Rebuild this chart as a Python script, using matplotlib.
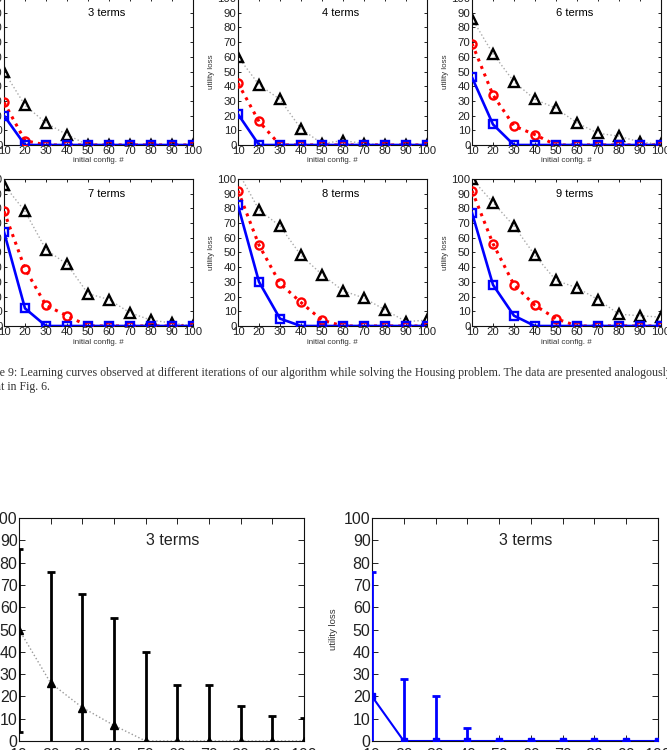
import matplotlib
matplotlib.use("Agg")
import matplotlib.pyplot as plt
import numpy as np

# ---------------- data ----------------
x = [10, 20, 30, 40, 50, 60, 70, 80, 90, 100]
titles = ["3 terms", "4 terms", "6 terms", "7 terms", "8 terms", "9 terms"]

black_vals = [
    [50, 27, 15, 7, 0, 0, 0, 0, 0, 0],
    [60, 41, 31, 11, 1, 3, 1, 0, 0, 0],
    [86, 62, 43, 31, 25, 15, 8, 6, 2, 0.5],
    [96, 78, 52, 42, 22, 18, 9, 4, 2, 0],
    [105, 79, 68, 48, 35, 24, 19, 11, 3, 4],
    [100, 84, 68, 48, 31, 26, 18, 8, 7, 6],
]
red_vals = [
    [29, 3, 0, 0, 0, 0, 0, 0, 0, 0],
    [42, 16, 0, 0, 0, 0, 0, 0, 0, 0],
    [69, 34, 13, 7, 0, 0, 0, 0, 0, 0],
    [78, 39, 14, 7, 0, 0, 0, 0, 0, 0],
    [92, 55, 29, 16, 4, 0, 0, 0, 0, 0],
    [92, 56, 28, 14, 5, 0, 0, 0, 0, 0],
]
blue_vals = [
    [20, 0, 0, 0, 0, 0, 0, 0, 0, 0],
    [21, 0, 0, 0, 0, 0, 0, 0, 0, 0],
    [46, 14, 0, 0, 0, 0, 0, 0, 0, 0],
    [64, 12, 0, 0, 0, 0, 0, 0, 0, 0],
    [82, 30, 5, 0, 0, 0, 0, 0, 0, 0],
    [77, 28, 7, 0, 0, 0, 0, 0, 0, 0],
]

# bottom panels (3 terms with error bars)
big_title = "3 terms"
big_black_mean = [50, 26, 15, 7, 0, 0, 0, 0, 0, 0]
big_black_err_low = [46, 50, 51, 48, 40, 25, 25, 15.5, 11, 10.5]
big_black_err_up = [36, 50, 51, 48, 40, 25, 25, 15.5, 11, 10.5]
big_blue_mean = [20, 0, 0, 0, 0, 0, 0, 0, 0, 0]
big_blue_err = [56, 28, 20, 6, 0, 0, 0, 0, 0, 0]

xticks = [10, 20, 30, 40, 50, 60, 70, 80, 90, 100]
yticks = [0, 10, 20, 30, 40, 50, 60, 70, 80, 90, 100]

caption1 = ("Figure 9: Learning curves observed at different iterations of our algorithm "
            "while solving the Housing problem. The data are presented analogously")
caption2 = "to that in Fig. 6."

# ---------------- figure ----------------
W, H = 667, 750
fig = plt.figure(figsize=(W / 100, H / 100), dpi=100)
plt.rcParams['font.family'] = ['Liberation Sans', 'DejaVu Sans']

def px_axes(left, top, width, height):
    return fig.add_axes([left / W, 1 - (top + height) / H, width / W, height / H])

def style_axes(ax, tick_fs, tick_len, label_color='#222222', xpad=1.5):
    ax.set_xlim(10, 100)
    ax.set_ylim(0, 100)
    ax.set_xticks(xticks)
    ax.set_yticks(yticks)
    ax.tick_params(direction='in', top=True, right=True, length=tick_len,
                   width=0.6, labelsize=tick_fs, labelcolor=label_color, pad=1.0)
    ax.tick_params(axis='x', pad=xpad)
    for s in ax.spines.values():
        s.set_linewidth(0.8)
        s.set_color('#111111')

lefts = [4, 238, 472]
tops = [-2, 179]
aw, ah = 189, 147

for i in range(6):
    r, c = divmod(i, 3)
    ax = px_axes(lefts[c], tops[r], aw, ah)
    ax.plot(x, black_vals[i], linestyle=':', color='#aaaaaa', lw=1.0,
            marker='^', ms=7, mfc='none', mec='black', mew=1.7, zorder=2)
    ax.plot(x, red_vals[i], linestyle=':', color='red', lw=2.2,
            marker='o', ms=5.8, mfc='none', mec='red', mew=1.7, zorder=3)
    ax.plot(x, blue_vals[i], linestyle='-', color='blue', lw=1.9,
            marker='s', ms=5.2, mfc='none', mec='blue', mew=1.7, zorder=4)
    style_axes(ax, 8.2, 2.5, xpad=1.0)
    ax.text(50, 90, titles[i], ha='left', va='center', fontsize=8, color='black')
    ax.set_xlabel("initial config. #", fontsize=5.8, labelpad=0.8, color='#333333')
    ax.set_ylabel("utility loss", fontsize=5.8, labelpad=1.5, color='#333333')

# caption
fig.text(-26 / W, 1 - 373 / H, caption1, ha='left', va='center', fontsize=8.6,
         family=['Liberation Serif'], color='#333333')
fig.text(-26 / W, 1 - 387 / H, caption2, ha='left', va='center', fontsize=8.6,
         family=['Liberation Serif'], color='#333333')

# bottom-left
ax1 = px_axes(19, 518, 285, 223)
ax1.plot(x, big_black_mean, linestyle=':', color='#999999', lw=1.0, zorder=2)
ax1.errorbar(x, big_black_mean, yerr=[big_black_err_low, big_black_err_up],
             fmt='^', color='black', ms=6, ecolor='black', elinewidth=2,
             capsize=3.2, capthick=2, zorder=3)
style_axes(ax1, 11.5, 4, label_color='#222222', xpad=5)
ax1.text(50, 90, big_title, ha='left', va='center', fontsize=11.5, color='#222222')
ax1.set_ylabel("utility loss", fontsize=6.8, color='#333333')

# bottom-right
ax2 = px_axes(372, 518, 286, 223)
ax2.errorbar(x, big_blue_mean, yerr=big_blue_err, fmt='-s', color='blue', lw=1.5,
             ms=4.5, ecolor='blue', elinewidth=2, capsize=3.2, capthick=2, zorder=3)
style_axes(ax2, 11.5, 4, label_color='#222222', xpad=5)
ax2.text(50, 90, big_title, ha='left', va='center', fontsize=11.5, color='#222222')
ax2.set_ylabel("utility loss", fontsize=6.8, color='#333333', labelpad=4)

fig.savefig("out.png", dpi=100)
